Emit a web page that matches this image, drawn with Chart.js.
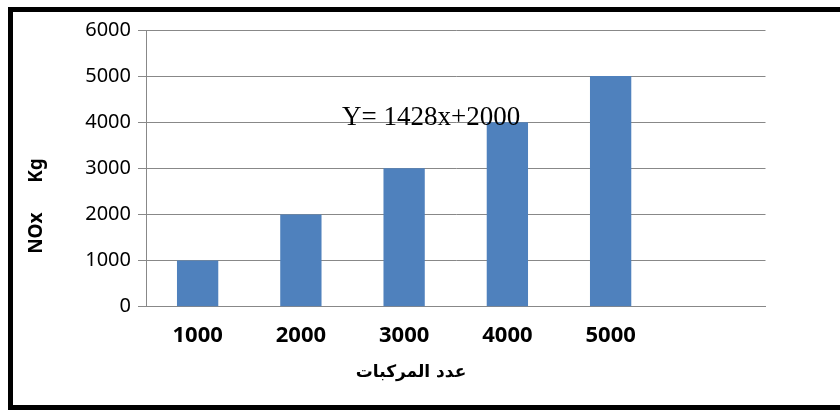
<html>
<head>
  <meta charset="utf-8">
  <title>NOx</title>
  <script src="https://cdn.jsdelivr.net/npm/chart.js"></script>
  <style>
    html, body { margin: 0; background: white; overflow: hidden; }
    #chart { display: block; }
  </style>
</head>
<body>
  <canvas id="chart" width="840" height="410"></canvas>

<script>
// number of vehicles vs NOx (kg)
const vehicles = ['1000', '2000', '3000', '4000', '5000', ''];
const noxKg = [1000, 2000, 3000, 4000, 5000, null];
const yTicks = [0, 1000, 2000, 3000, 4000, 5000, 6000];
const equation = 'Y= 1428x+2000';
const xTitle = 'عدد المركبات';
const yTitle = 'NOx      Kg';

const gray = '#888888';

// thick black frame: left, top and bottom edges (right edge runs off the page)
const frame = {
  id: 'frame',
  beforeDraw(chart) {
    const ctx = chart.ctx;
    ctx.save();
    ctx.fillStyle = 'black';
    ctx.fillRect(8, 7, chart.width - 8, 5);
    ctx.fillRect(8, 7, 5, 403);
    ctx.fillRect(8, 405, chart.width - 8, 5);
    ctx.restore();
  }
};

// titles and the fitted-line equation
const extraText = {
  id: 'extraText',
  afterDatasetsDraw(chart) {
    const ctx = chart.ctx;
    const y = chart.scales.y;
    ctx.save();
    ctx.fillStyle = 'black';

    ctx.font = '27px "Liberation Serif"';
    ctx.textAlign = 'left';
    ctx.textBaseline = 'alphabetic';
    ctx.fillText(equation, 342, y.getPixelForValue(4000) + 3);

    ctx.font = 'bold 17px "DejaVu Sans"';
    ctx.textAlign = 'center';
    ctx.textBaseline = 'middle';
    ctx.fillText(xTitle, 411, 373);

    ctx.translate(37, 206);
    ctx.rotate(-Math.PI / 2);
    ctx.font = 'bold 19px "Noto Sans"';
    ctx.fillText(yTitle, 0, 0);
    ctx.restore();
  }
};

new Chart(document.getElementById('chart'), {
  type: 'bar',
  data: {
    labels: vehicles,
    datasets: [{
      data: noxKg,
      backgroundColor: '#4F81BD',
      categoryPercentage: 1,
      barPercentage: 0.4
    }]
  },
  options: {
    responsive: false,
    animation: false,
    layout: { padding: { left: 0, top: 30, right: 74.5, bottom: 0 } },
    plugins: { legend: { display: false }, tooltip: { enabled: false } },
    scales: {
      x: {
        afterFit(s) { s.height = 103.3; },
        grid: { display: false, drawTicks: false },
        border: { display: true, color: gray, width: 1 },
        ticks: {
          padding: 16,
          color: 'black',
          font: { family: 'Noto Sans', size: 22, weight: 'bold' }
        }
      },
      y: {
        min: 0,
        max: 6000,
        afterFit(s) { s.width = 146; },
        afterBuildTicks(s) { s.ticks = yTicks.map(v => ({ value: v })); },
        grid: { color: gray, lineWidth: 1, tickLength: 8 },
        border: { color: gray, width: 1 },
        ticks: {
          padding: 7,
          color: 'black',
          font: { family: 'Noto Sans', size: 20 },
          callback: v => String(v)
        }
      }
    }
  },
  plugins: [frame, extraText]
});
</script>
</body>
</html>
